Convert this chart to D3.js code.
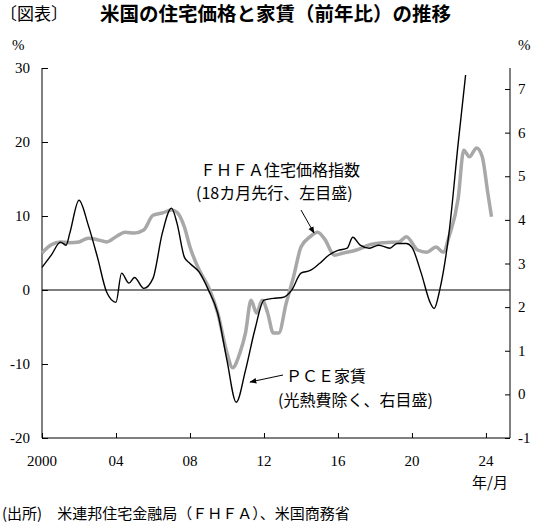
<!DOCTYPE html>
<html><head><meta charset="utf-8">
<script src="https://cdn.jsdelivr.net/npm/d3@7"></script>
<style>body{margin:0;background:#fff}</style>
</head><body><div id="chart"></div>
<script>
// FHFA house price index (yoy %, 18-month lead, left axis)
const fhfaYears = [2000,2000.5,2001,2001.5,2002,2002.5,2003,2003.5,2004,2004.5,2005,2005.5,2006,2006.5,2007,2007.3,2007.7,2008,2008.5,2009,2009.5,2010,2010.3,2010.7,2011,2011.3,2011.6,2011.9,2012.2,2012.5,2012.8,2013.2,2013.6,2014,2014.5,2014.9,2015.3,2015.8,2016.3,2017,2017.7,2018.5,2019.3,2019.7,2020.3,2020.8,2021.3,2021.7,2022,2022.5,2022.8,2023.1,2023.5,2023.8,2024.1,2024.3];
const fhfaValues = [5.0,6.1,6.5,6.4,6.5,7.0,6.8,6.5,7.2,7.8,7.7,8.1,10.1,10.4,10.8,10.5,8.5,5.8,2.7,0.4,-3.1,-8.5,-10.5,-8.5,-5.8,-1.4,-3.1,-1.4,-3.1,-5.8,-5.8,-1.8,1.8,5.8,7.2,7.8,6.8,4.7,5.0,5.4,6.1,6.4,6.5,7.2,5.4,5.1,5.8,5.1,7.2,12.4,18.9,18.0,19.2,18.0,13.1,9.9];
// PCE rent excl. utilities (yoy %, right axis)
const pceYears = [2000,2000.5,2001,2001.3,2001.5,2002,2002.5,2003,2003.5,2004,2004.3,2004.7,2005,2005.5,2006,2006.5,2007,2007.3,2007.7,2008,2008.5,2009,2009.5,2010,2010.5,2011,2011.5,2012,2012.5,2013,2013.5,2014,2014.5,2015,2015.5,2016,2016.5,2016.8,2017.2,2017.7,2018.2,2018.8,2019.2,2019.7,2020,2020.5,2021,2021.2,2021.5,2022,2022.5,2022.9];
const pceValues = [2.91,3.19,3.49,3.42,3.69,4.45,3.88,3.14,2.34,2.11,2.78,2.55,2.68,2.43,2.66,3.69,4.27,3.92,3.14,3.0,2.8,2.39,1.86,0.78,-0.18,0.55,1.47,2.16,2.2,2.22,2.39,2.78,2.84,3.0,3.19,3.3,3.35,3.6,3.42,3.35,3.42,3.35,3.46,3.46,3.37,2.78,2.09,1.97,2.39,3.69,5.76,7.32];
const leftTicks = [30,20,10,0,-10,-20];
const rightTicks = [7,6,5,4,3,2,1,0,-1];
const yearTicks = [2000,2004,2008,2012,2016,2020,2024];

const W = 541, H = 525;
const serif = "'Liberation Serif','DejaVu Serif',serif";
const jp = "'Noto Sans CJK JP',sans-serif";

const svg = d3.select('#chart').append('svg').attr('width', W).attr('height', H);

const x = d3.scaleLinear().domain([2000, 2025.3]).range([42, 510]);
const yL = d3.scaleLinear().domain([-20, 30]).range([438, 68]);
const yR = d3.scaleLinear().domain([-1, 7]).range([438, 89]);

// axes
svg.append('g').attr('transform', 'translate(42,0)')
    .call(d3.axisRight(yL).tickValues(leftTicks).tickSize(6).tickFormat(''))
    .call(g => g.select('.domain').attr('d', 'M0,68V438'));
svg.append('g').attr('transform', 'translate(510,0)')
    .call(d3.axisLeft(yR).tickValues(rightTicks).tickSize(5).tickFormat(''))
    .call(g => g.select('.domain').attr('d', 'M0,68V438'));
svg.append('g').attr('transform', 'translate(0,438)')
    .call(d3.axisTop(x).tickValues(yearTicks).tickSize(5).tickFormat(''))
    .call(g => g.select('.domain').attr('d', 'M42,0H510'));

svg.selectAll('.lt').data(leftTicks).join('text')
    .attr('x', 30).attr('y', d => yL(d) + 5).attr('text-anchor', 'end')
    .attr('font-family', serif).attr('font-size', 15).text(d => d);
svg.selectAll('.rt').data(rightTicks).join('text')
    .attr('x', 518).attr('y', d => yR(d) + 5)
    .attr('font-family', serif).attr('font-size', 15).text(d => d);
svg.selectAll('.xt').data(yearTicks).join('text')
    .attr('x', d => x(d)).attr('y', 466).attr('text-anchor', 'middle')
    .attr('font-family', serif).attr('font-size', 15)
    .text(d => d === 2000 ? '2000' : String(d % 100).padStart(2, '0'));

// zero line
svg.append('line').attr('x1', 42).attr('x2', 510).attr('y1', yL(0)).attr('y2', yL(0))
    .attr('stroke', '#000').attr('stroke-width', 1);

// lines
const fhfa = fhfaYears.map((t, i) => [t, fhfaValues[i]]);
const pce = pceYears.map((t, i) => [t, pceValues[i]]);
svg.append('path').datum(fhfa)
    .attr('d', d3.line().curve(d3.curveMonotoneX).x(d => x(d[0])).y(d => yL(d[1])))
    .attr('fill', 'none').attr('stroke', '#a8a8a8').attr('stroke-width', 3.5);
svg.append('path').datum(pce)
    .attr('d', d3.line().curve(d3.curveMonotoneX).x(d => x(d[0])).y(d => yR(d[1])))
    .attr('fill', 'none').attr('stroke', '#000').attr('stroke-width', 1.4);

// arrows
svg.append('defs').append('marker').attr('id', 'ar').attr('viewBox', '0 0 10 10')
    .attr('refX', 9).attr('refY', 5).attr('markerWidth', 7).attr('markerHeight', 7)
    .attr('orient', 'auto')
    .append('path').attr('d', 'M0,1L10,5L0,9Z').attr('fill', '#000');
svg.append('line').attr('x1', 301).attr('y1', 210).attr('x2', 314).attr('y2', 233)
    .attr('stroke', '#000').attr('marker-end', 'url(#ar)');
svg.append('line').attr('x1', 283).attr('y1', 375).attr('x2', 250).attr('y2', 382)
    .attr('stroke', '#000').attr('marker-end', 'url(#ar)');

// texts
const txt = (s, tx, ty, size, opts = {}) => svg.append('text').attr('x', tx).attr('y', ty)
    .attr('font-family', opts.f || jp).attr('font-size', size)
    .attr('font-weight', opts.w || 'normal').attr('text-anchor', opts.a || 'start').text(s);
txt('〔図表〕', 0, 20, 17);
txt('米国の住宅価格と家賃（前年比）の推移', 100, 21, 19.5, { w: 'bold' });
txt('%', 12, 50, 15, { f: serif });
txt('%', 518, 50, 15, { f: serif });
txt('ＦＨＦＡ住宅価格指数', 200, 176, 16);
txt('(18カ月先行、左目盛)', 196, 199, 16);
txt('ＰＣＥ家賃', 286, 382, 16);
txt('(光熱費除く、右目盛)', 278, 406, 16);
txt('年/月', 472, 488, 15);
txt('(出所)　米連邦住宅金融局（ＦＨＦＡ）、米国商務省', 2, 519, 15);
</script></body></html>
